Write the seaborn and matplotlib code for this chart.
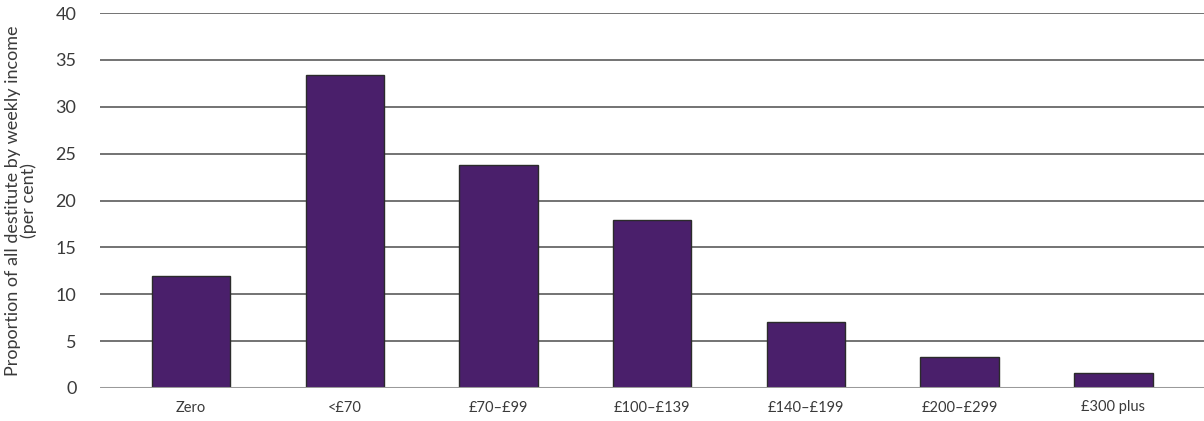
import matplotlib
matplotlib.use("Agg")
import matplotlib.pyplot as plt
import seaborn as sns
import pandas as pd

categories = ["Zero", "<£70", "£70\u2013£99", "£100\u2013£139", "£140\u2013£199", "£200\u2013£299", "£300 plus"]
values = [12.0, 33.4, 23.8, 17.9, 7.0, 3.3, 1.6]
yticks = [0, 5, 10, 15, 20, 25, 30, 35, 40]
ylabel = "Proportion of all destitute by weekly income\n(per cent)"

sns.set_theme(style="white")
plt.rcParams['font.family'] = ['Lato', 'DejaVu Sans']

df = pd.DataFrame({"cat": categories, "val": values})

fig = plt.figure(figsize=(12.04, 4.21), dpi=100)
ax = fig.add_axes([100/1204, 1 - 388/421, 1 - 100/1204, (388 - 13)/421])

ax.set_axisbelow(True)
for t in yticks[1:]:
    ax.axhline(t, color="#4d4d4d", lw=1.1, zorder=0)

sns.barplot(data=df, x="cat", y="val", color="#4a1f6b", saturation=1,
            width=0.51, edgecolor="#2b2b2b", linewidth=1.0, ax=ax, zorder=2)

ax.axhline(0, color="#9a9a9a", lw=2.2, zorder=3)

ax.set_ylim(0, 40)
ax.set_xlim(-0.593, 6.59)
ax.set_yticks(yticks)
ax.set_yticklabels([str(t) for t in yticks], fontsize=13, color="#3a3a3a")
ax.tick_params(axis="y", length=0, pad=17)
ax.tick_params(axis="x", length=0, pad=9, labelsize=10.5, labelcolor="#3a3a3a")
ax.set_xlabel("")
ax.set_ylabel(ylabel, fontsize=13, color="#3a3a3a", labelpad=13, linespacing=0.95)
for s in ax.spines.values():
    s.set_visible(False)

fig.savefig("out.png", dpi=100)
